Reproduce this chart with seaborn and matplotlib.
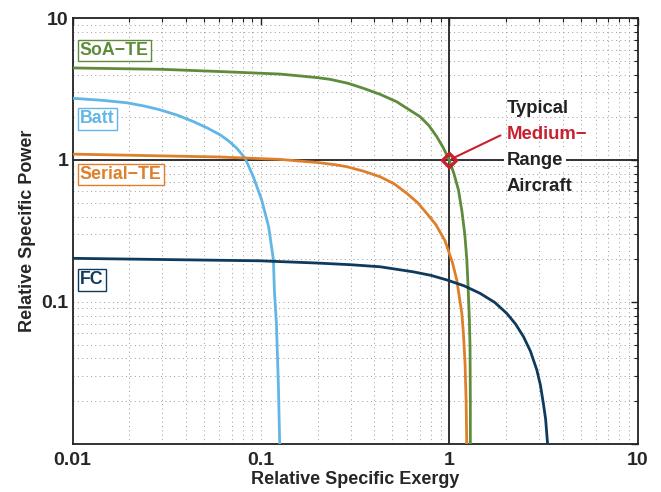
import matplotlib
matplotlib.use("Agg")
import matplotlib.pyplot as plt
import seaborn as sns
import pandas as pd
from matplotlib.ticker import LogLocator, NullFormatter

# ── data (relative specific exergy, relative specific power) ──
soa_x = [0.01, 0.03, 0.06, 0.126, 0.161, 0.20, 0.233, 0.29, 0.350, 0.43, 0.527, 0.60, 0.70,
         0.78, 0.859, 0.93, 1.0, 1.06, 1.12, 1.17, 1.21, 1.24, 1.26, 1.28, 1.29, 1.295, 1.295]
soa_y = [4.45, 4.35, 4.2, 4.03, 3.91, 3.80, 3.70, 3.47, 3.20, 2.90, 2.57, 2.30, 2.02,
         1.75, 1.46, 1.22, 1.0, 0.80, 0.615, 0.43, 0.30, 0.20, 0.128, 0.075, 0.048, 0.02, 0.0095]

batt_x = [0.01, 0.014, 0.0194, 0.024, 0.029, 0.036, 0.044, 0.052, 0.061, 0.068, 0.0745,
          0.0825, 0.0912, 0.101, 0.110, 0.1166, 0.118, 0.121, 0.124, 0.126]
batt_y = [2.72, 2.64, 2.53, 2.40, 2.26, 2.07, 1.86, 1.68, 1.50, 1.35, 1.21,
          1.03, 0.762, 0.523, 0.339, 0.198, 0.12, 0.07, 0.025, 0.0095]

serial_x = [0.01, 0.029, 0.06, 0.126, 0.2, 0.25, 0.286, 0.35, 0.430, 0.51, 0.596, 0.68, 0.760,
            0.85, 0.95, 1.04, 1.097, 1.13, 1.167, 1.19, 1.214, 1.23, 1.24]
serial_y = [1.10, 1.07, 1.05, 1.01, 0.96, 0.925, 0.897, 0.835, 0.762, 0.68, 0.582, 0.50, 0.421,
            0.35, 0.27, 0.19, 0.143, 0.11, 0.0832, 0.06, 0.037, 0.02, 0.0095]

fc_x = [0.01, 0.099, 0.2, 0.3, 0.430, 0.646, 0.8, 0.971, 1.2, 1.46, 1.75, 2.02, 2.25,
        2.48, 2.7, 2.92, 3.05, 3.16, 3.25, 3.34]
fc_y = [0.203, 0.195, 0.188, 0.183, 0.177, 0.163, 0.154, 0.143, 0.13, 0.115, 0.099, 0.0832,
        0.07, 0.057, 0.045, 0.0332, 0.026, 0.0194, 0.015, 0.0095]

series = [("SoA\u2212TE", soa_x, soa_y, "#5E8C3A"),
          ("Batt", batt_x, batt_y, "#62B6E6"),
          ("Serial\u2212TE", serial_x, serial_y, "#DE7F2B"),
          ("FC", fc_x, fc_y, "#0E3A5C")]
# label box anchors (axes fraction, upper-left)
label_pos = {"SoA\u2212TE": (0.013, 0.943), "Batt": (0.013, 0.783),
             "Serial\u2212TE": (0.013, 0.652), "FC": (0.013, 0.405)}

sns.set_style("white")
plt.rcParams['font.family'] = ['Liberation Sans', 'DejaVu Sans']
plt.rcParams['font.weight'] = 'bold'

fig = plt.figure(figsize=(6.61, 4.92), dpi=100)
ax = fig.add_axes([0.1097, 0.0976, 0.8548, 0.8658])

for name, xs, ys, col in series:
    df = pd.DataFrame({"x": xs, "y": ys})
    sns.lineplot(data=df, x="x", y="y", ax=ax, color=col, lw=2.0, sort=False,
                 estimator=None, zorder=3, solid_joinstyle="round")
    lx, ly = label_pos[name]
    ax.text(lx, ly, name, transform=ax.transAxes, color=col, fontsize=12.8,
            fontweight="bold", va="top", ha="left",
            bbox=dict(boxstyle="square,pad=0.12", fc="white", ec=col, lw=1))

ax.set_xscale("log"); ax.set_yscale("log")
ax.set_xlim(0.01, 10); ax.set_ylim(0.01, 10)

# reference lines at the typical aircraft point
ax.axvline(1, color="#222222", lw=1.3, zorder=2)
ax.axhline(1, color="#222222", lw=1.3, zorder=2)
ax.plot([1], [1], marker="D", ms=7.5, mfc="none", mec="#C8202F", mew=2.4, zorder=5)
ax.annotate("", xy=(1.0, 1.0), xytext=(1.93, 1.52),
            arrowprops=dict(arrowstyle="-", color="#C8202F", lw=1.5), zorder=4)

tx = 2.02
ax.text(tx, 2.32, "Typical", fontsize=13.3, fontweight="bold", color="#222222", va="center")
ax.text(tx, 1.50, "Medium\u2212", fontsize=13.3, fontweight="bold", color="#C8202F", va="center")
ax.text(tx, 0.985, "Range", fontsize=13.3, fontweight="bold", color="#222222", va="center",
        bbox=dict(boxstyle="square,pad=0.15", fc="white", ec="none"), zorder=4)
ax.text(tx, 0.646, "Aircraft", fontsize=13.3, fontweight="bold", color="#222222", va="center")

ax.set_xticks([0.01, 0.1, 1, 10])
ax.set_xticklabels(["0.01", "0.1", "1", "10"])
ax.set_yticks([0.01, 0.1, 1, 10])
ax.set_yticklabels(["", "0.1", "1", "10"])
ax.xaxis.set_minor_locator(LogLocator(base=10, subs=range(2, 10)))
ax.yaxis.set_minor_locator(LogLocator(base=10, subs=range(2, 10)))
ax.xaxis.set_minor_formatter(NullFormatter())
ax.yaxis.set_minor_formatter(NullFormatter())
ax.tick_params(which="both", direction="in", top=True, right=True, color="#222222")
ax.tick_params(which="major", length=5, width=1, labelsize=14, pad=3)
ax.tick_params(axis="x", which="major", pad=6)
ax.tick_params(which="minor", length=3, width=0.8)
for lab in ax.get_xticklabels() + ax.get_yticklabels():
    lab.set_fontweight("bold")

ax.grid(True, which="both", ls=(0, (1, 3.5)), color="#9a9a9a", lw=0.7, zorder=0)
for sp in ax.spines.values():
    sp.set_color("#222222"); sp.set_linewidth(1.3)

ax.set_xlabel("Relative Specific Exergy", fontsize=13, fontweight="bold", labelpad=1)
ax.set_ylabel("Relative Specific Power", fontsize=13, fontweight="bold", labelpad=4)

plt.savefig("out.png", dpi=100)
plt.close()
